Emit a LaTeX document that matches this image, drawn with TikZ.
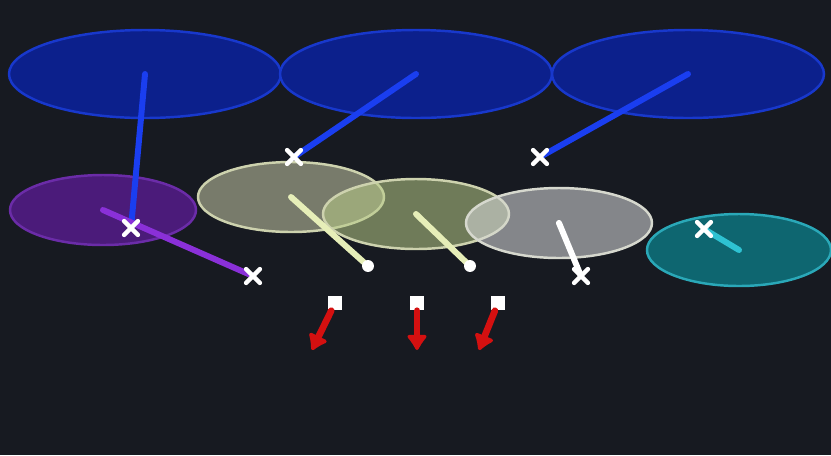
\documentclass[tikz,border=0pt]{standalone}
\usepackage{tikz}
\usepackage{tkz-euclide}
\usetikzlibrary{arrows.meta,shapes.misc}
\definecolor{bgdark}{HTML}{171A21}
\definecolor{bluefill}{HTML}{0C208C}
\definecolor{blueedge}{HTML}{1838CC}
\definecolor{bluearm}{HTML}{1A3EF0}
\definecolor{purplefill}{HTML}{4B1B7A}
\definecolor{purpleedge}{HTML}{6B2CA8}
\definecolor{purplearm}{HTML}{8A30D8}
\definecolor{olivefill}{HTML}{C8CBA8}
\definecolor{greenfill}{HTML}{B8CC88}
\definecolor{oliveedge}{HTML}{CDD2AE}
\definecolor{olivearm}{HTML}{E6EEB8}
\definecolor{greyfill}{HTML}{DADCDE}
\definecolor{greyedge}{HTML}{D6D8CE}
\definecolor{tealfill}{HTML}{0E6670}
\definecolor{tealedge}{HTML}{2AA8B8}
\definecolor{tealarm}{HTML}{2EC2D2}
\definecolor{redarm}{HTML}{D41010}

\begin{document}
\begin{tikzpicture}[line cap=round,
  blob/.style={line width=0.7pt},
  arm/.style={line width=1.7pt},
  xmark/.style={cross out,draw=white,line width=1.3pt,minimum size=2.6pt,inner sep=0pt},
  sqmark/.style={rectangle,fill=white,minimum size=4pt,inner sep=0pt},
  redarrow/.style={redarm,line width=1.9pt,-{Latex[round,length=5pt,width=7pt]}}]
\useasboundingbox (0,0) rectangle (8.31,4.55);
\fill[bgdark] (0,0) rectangle (8.31,4.55);
\tkzDefPoints{1.45/3.81/A,4.16/3.81/B,6.88/3.81/C,1.03/2.45/P,2.91/2.58/E,4.16/2.41/F,5.59/2.32/G,7.39/2.05/T}
\tkzDefPoints{1.31/2.27/K,2.94/2.98/L,5.40/2.98/M,2.53/1.79/N,5.81/1.79/U,7.04/2.26/V}
\tkzDefPoints{3.68/1.89/D,4.70/1.89/H}
\tkzDefPoints{3.35/1.52/S1,4.17/1.52/S2,4.98/1.52/S3,3.12/1.05/R1,4.17/1.05/R2,4.79/1.05/R3}
% ellipses
\filldraw[blob,fill=bluefill,draw=blueedge](A) ellipse [x radius=1.36,y radius=0.44];
\filldraw[blob,fill=bluefill,draw=blueedge](B) ellipse [x radius=1.36,y radius=0.44];
\filldraw[blob,fill=bluefill,draw=blueedge](C) ellipse [x radius=1.36,y radius=0.44];
\filldraw[blob,fill=purplefill,draw=purpleedge](P) ellipse [x radius=0.93,y radius=0.35];
\filldraw[blob,fill=olivefill,fill opacity=0.55,draw=oliveedge](E) ellipse [x radius=0.93,y radius=0.35];
\filldraw[blob,fill=greenfill,fill opacity=0.55,draw=oliveedge](F) ellipse [x radius=0.93,y radius=0.35];
\filldraw[blob,fill=greyfill,fill opacity=0.56,draw=greyedge](G) ellipse [x radius=0.93,y radius=0.35];
\filldraw[blob,fill=tealfill,draw=tealedge](T) ellipse [x radius=0.92,y radius=0.36];
% arms
\draw[arm,bluearm](A)--(K)(B)--(L)(C)--(M);
\draw[arm,purplearm](P)--(N);
\draw[arm,olivearm](E)--(D)(F)--(H);
\draw[arm,white](G)--(U);
\draw[arm,tealarm](V)--(T);
\fill[white](D) circle (1.7pt)(H) circle (1.7pt);
\foreach \p in {K,L,M,N,U,V}
  \node[xmark] (x\p) at (\p) {};
% squares and red arrows
\foreach \i in {1,2,3}{
  \node[sqmark] (s\i) at (S\i) {};
  \draw[redarrow](s\i)--(R\i);}
\end{tikzpicture}
\end{document}
